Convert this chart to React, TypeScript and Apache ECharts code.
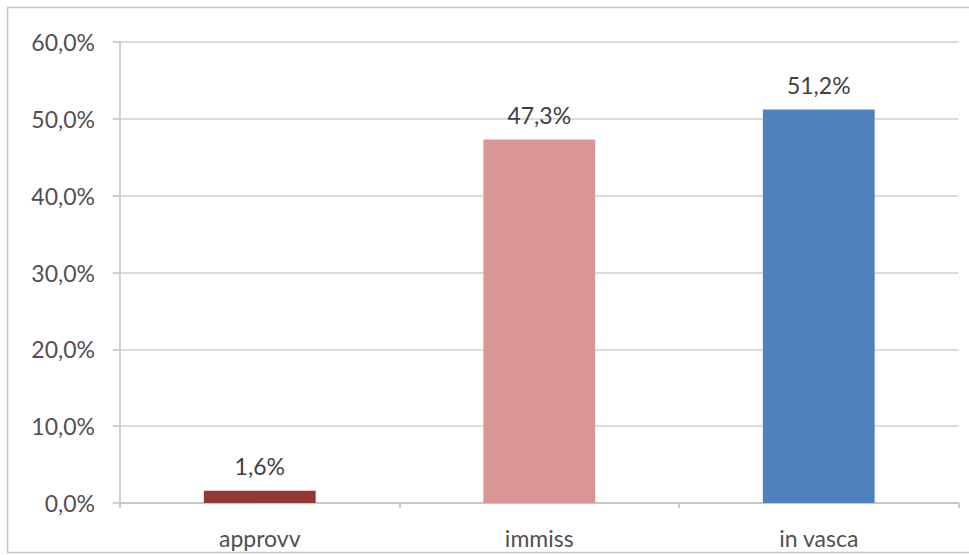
import React, { useEffect, useRef } from "react";
import * as echarts from "echarts";

const categories = ["approvv", "immiss", "in vasca"];
const values = [1.6, 47.3, 51.2];
const barColors = ["#953735", "#d99694", "#4f81bd"];
const yTicks = [0, 10, 20, 30, 40, 50, 60];

const fmt = (v: number) => v.toFixed(1).replace(".", ",") + "%";

export default function App() {
  const ref = useRef<HTMLDivElement>(null);
  useEffect(() => {
    if (!ref.current) return;
    const chart = echarts.init(ref.current, undefined, { renderer: "svg" });
    const font = "Lato, 'Open Sans', sans-serif";
    chart.setOption({
      animation: false,
      backgroundColor: "#ffffff",
      graphic: [
        {
          type: "polyline",
          shape: { points: [[975, 7.5], [7.5, 7.5], [7.5, 552.5], [975, 552.5]] },
          style: { stroke: "#c4c4c4", lineWidth: 1.5, fill: "none" },
          silent: true,
        },
      ],
      grid: { left: 120, right: 10.5, top: 42, bottom: 52, containLabel: false },
      xAxis: {
        type: "category",
        data: categories,
        axisLine: { show: true, lineStyle: { color: "#c0c0c0", width: 1.5 } },
        axisTick: { show: true, length: 5, lineStyle: { color: "#c0c0c0", width: 1.5 } },
        axisLabel: { color: "#505050", fontFamily: font, fontSize: 23, margin: 23 },
      },
      yAxis: {
        type: "value",
        min: yTicks[0],
        max: yTicks[yTicks.length - 1],
        interval: 10,
        axisLine: { show: true, lineStyle: { color: "#c0c0c0", width: 1.5 } },
        axisTick: { show: true, inside: false, length: 7, lineStyle: { color: "#c0c0c0", width: 1.5 } },
        splitLine: { show: true, lineStyle: { color: "#cfcfcf", width: 1.5 } },
        axisLabel: {
          color: "#505050",
          fontFamily: font,
          fontSize: 23,
          margin: 25,
          formatter: (v: number) => fmt(v),
        },
      },
      series: [
        {
          type: "bar",
          data: values.map((v, i) => ({ value: v, itemStyle: { color: barColors[i] } })),
          barWidth: "40%",
          label: {
            show: true,
            position: "top",
            distance: 13,
            color: "#404040",
            fontFamily: font,
            fontSize: 23,
            formatter: (p: any) => fmt(p.value),
          },
        },
      ],
    });
    return () => chart.dispose();
  }, []);
  return (
    <div
      ref={ref}
      style={{ position: "absolute", left: 0, top: 0, width: 969, height: 555 }}
    />
  );
}
